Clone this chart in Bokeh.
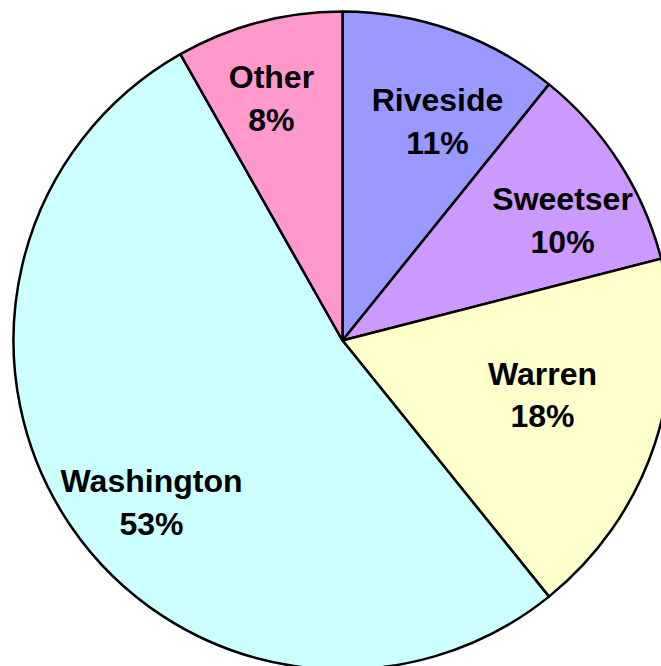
import numpy as np
from bokeh.plotting import figure
from bokeh.models import Range1d, ColumnDataSource
from bokeh.core.properties import value
from bokeh.embed import file_html
from bokeh.resources import INLINE

# data
categories = ["Riveside", "Sweetser", "Warren", "Washington", "Other"]
shares = [10.8, 10.2, 18.2, 52.6, 8.2]
colors = ["#9999FF", "#CC99FF", "#FFFFCC", "#CCFFFF", "#FF99CC"]

# layout (pixels / degrees)
CX, CY, R = 342, -340, 329
label_r_frac = [0.726, 0.762, 0.630, 0.761, 0.767]
label_dang = [-4.0, -4.15, 3.1, 6.1, 1.6]

vals = np.array(shares, dtype=float)
fr = vals / vals.sum()
ends = np.pi / 2 - 2 * np.pi * np.cumsum(fr)
starts = np.concatenate([[np.pi / 2], ends[:-1]])
mids = (starts + ends) / 2 + np.radians(label_dang)
lr = np.array(label_r_frac) * R

src = ColumnDataSource(dict(
    start=starts, end=ends, color=colors,
    lx=CX + lr * np.cos(mids), ly=CY + lr * np.sin(mids),
    label=[f"{c}\n{int(np.floor(f * 100 + 0.5))}%" for c, f in zip(categories, fr)],
))

p = figure(width=661, height=666, output_backend="svg", toolbar_location=None,
           x_range=Range1d(0, 661), y_range=Range1d(-666, 0),
           min_border=0, outline_line_color=None)
p.axis.visible = False
p.grid.visible = False
p.background_fill_color = "white"

p.wedge(x=CX, y=CY, radius=R, start_angle="end", end_angle="start",
        fill_color="color", line_color="black", line_width=2.5, source=src)
p.text(x="lx", y="ly", text="label", source=src, text_align="center",
       text_baseline="middle", text_font=value("Liberation Sans"),
       text_font_style="bold", text_font_size="32px", text_color="black",
       text_line_height=1.18)

open("out.html", "w").write(file_html(p, INLINE))
